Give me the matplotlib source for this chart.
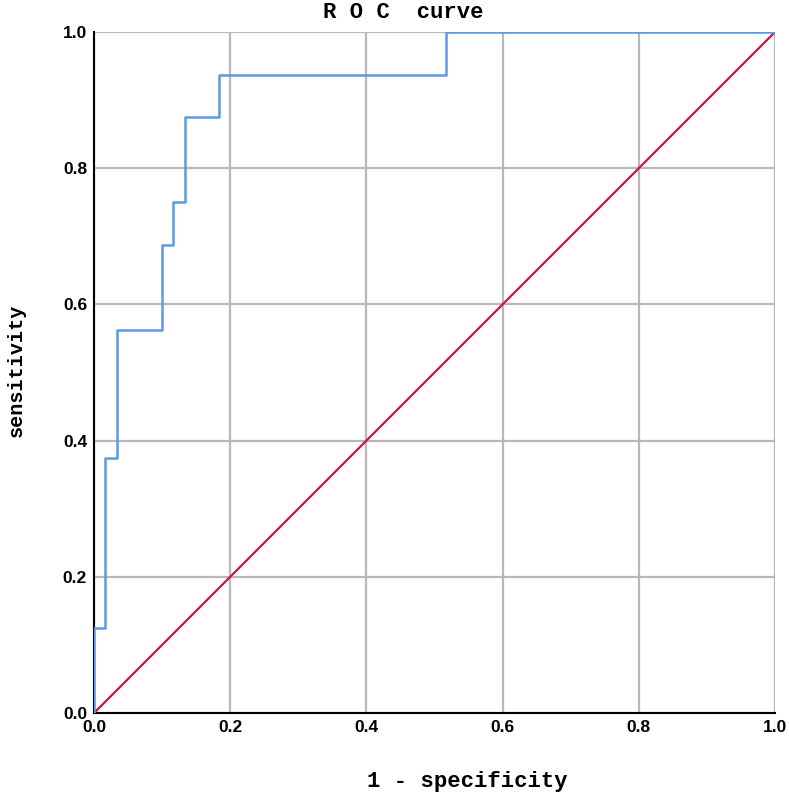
import matplotlib
matplotlib.use("Agg")
import matplotlib.pyplot as plt

# ROC steps: 16 positives, 60 negatives
fpr = [0, 0, 1/60, 1/60, 2/60, 2/60, 6/60, 6/60, 7/60, 7/60, 8/60, 8/60,
       11/60, 11/60, 31/60, 31/60, 1.0]
tpr = [0, 0.125, 0.125, 0.375, 0.375, 0.5625, 0.5625, 0.6875, 0.6875, 0.75,
       0.75, 0.875, 0.875, 0.9375, 0.9375, 1.0, 1.0]
ref_line = [0, 1]
ticks = [0.0, 0.2, 0.4, 0.6, 0.8, 1.0]

W, H = 789, 797
fig = plt.figure(figsize=(W / 100, H / 100), dpi=100)
ax = fig.add_axes([94 / W, 1 - 713 / H, 681 / W, 681 / H])

ax.grid(True, color="#b8b8b8", linewidth=1.6, zorder=0)
ax.set_axisbelow(True)
ax.plot(ref_line, ref_line, color="#cc1440", linewidth=1.6, zorder=3)
ax.plot(fpr, tpr, color="#5a9ae0", linewidth=1.8, zorder=4)

ax.set_xlim(0, 1)
ax.set_ylim(0, 1)
ax.set_xticks(ticks)
ax.set_yticks(ticks)
lbl = [f"{t:.1f}" for t in ticks]
ax.set_xticklabels(lbl, fontfamily="Liberation Sans", fontweight="bold", fontsize=12.5)
ax.set_yticklabels(lbl, fontfamily="Liberation Sans", fontweight="bold", fontsize=12.5)
ax.tick_params(length=0, pad=5)

for s in ("top", "right"):
    ax.spines[s].set_visible(False)
for s in ("left", "bottom"):
    ax.spines[s].set_color("black")
    ax.spines[s].set_linewidth(1.5)

mono = dict(fontfamily="Liberation Mono", fontweight="bold")
fig.text(403 / W, 1 - 12 / H, "R O C  curve", ha="center", va="center",
         fontsize=16, **mono)
fig.text(467 / W, 1 - 781 / H, "1 - specificity", ha="center", va="center",
         fontsize=16, **mono)
fig.text(16 / W, 1 - 370 / H, "sensitivity", ha="center", va="center",
         rotation=90, fontsize=14.5, **mono)

plt.savefig("out.png", dpi=100)
